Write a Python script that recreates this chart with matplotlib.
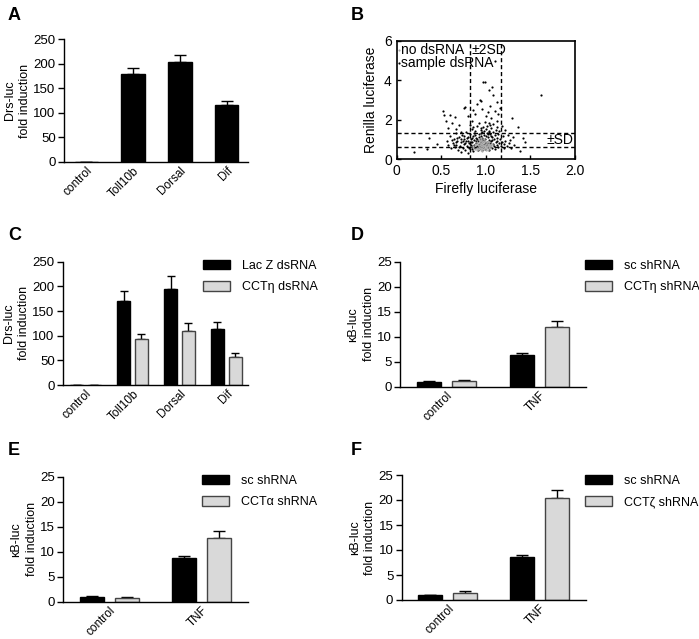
import numpy as np
import matplotlib
matplotlib.use('Agg')
import matplotlib.pyplot as plt
from matplotlib.patches import Patch

plt.rcParams['font.family'] = ['Liberation Sans', 'DejaVu Sans']
plt.rcParams['font.size'] = 9.5

# panel A
drs_cats = ['control', 'Toll10b', 'Dorsal', 'Dif']
drs_fold = [1, 179, 204, 115]
drs_err = [0, 12, 13, 10]

# panel C
lacz_fold = [1, 170, 195, 113]
lacz_err = [0, 20, 27, 15]
ccth_fold = [1, 94, 109, 57]
ccth_err = [0, 9, 17, 8]

# panels D, E, F
kb_cats = ['control', 'TNF']
d_sc, d_sc_err = [1.0, 6.4], [0.05, 0.4]
d_kd, d_kd_err = [1.2, 12.0], [0.05, 1.2]
e_sc, e_sc_err = [1.0, 8.7], [0.05, 0.4]
e_kd, e_kd_err = [0.8, 12.8], [0.1, 1.3]
f_sc, f_sc_err = [1.0, 8.6], [0.05, 0.4]
f_kd, f_kd_err = [1.5, 20.4], [0.3, 1.6]

# panel B: sample dsRNA (black) points
sample_x = [0.19, 0.34, 0.36, 0.52, 0.53, 0.60, 0.65, 0.55, 0.62, 0.58, 0.66, 0.70, 0.72, 0.75, 0.77,
            0.80, 0.86, 0.84, 0.88, 0.90, 0.93, 0.95, 0.97, 0.99, 1.03, 1.07, 1.08, 1.10, 1.12, 1.05,
            1.10, 1.14, 1.02, 0.96, 1.00, 1.06, 1.13, 1.16, 1.18, 1.22, 1.29, 1.36, 1.27, 1.42, 1.44,
            1.38, 1.32, 1.25, 1.30, 1.20, 1.62, 0.72, 0.80, 0.45,
            0.56, 0.58, 0.60, 0.61, 0.63, 0.64, 0.65, 0.66, 0.67, 0.68, 0.69, 0.70, 0.71, 0.72, 0.73,
            0.74, 0.75, 0.76, 0.77, 0.78, 0.78, 0.79, 0.80, 0.81, 0.81, 0.82, 0.83, 0.83, 0.84, 0.84,
            0.85, 0.85, 0.86, 0.86, 0.87, 0.87, 0.88, 0.88, 0.89, 0.89, 0.90, 0.90, 0.91, 0.91, 0.92,
            0.92, 0.93, 0.93, 0.94, 0.94, 0.95, 0.95, 0.96, 0.96, 0.97, 0.97, 0.98, 0.98, 0.99, 0.99,
            1.00, 1.00, 1.01, 1.01, 1.02, 1.02, 1.03, 1.03, 1.04, 1.04, 1.05, 1.05, 1.06, 1.06, 1.07,
            1.07, 1.08, 1.08, 1.09, 1.09, 1.10, 1.10, 1.11, 1.11, 1.12, 1.12, 1.13, 1.14, 1.14, 1.15,
            1.16, 1.17, 1.18, 1.19, 1.20, 1.22, 1.24, 1.26, 1.28,
            0.88, 0.90, 0.92, 0.94, 0.96, 0.98, 1.00, 1.02, 1.04, 1.06, 0.93, 0.95, 0.97, 0.99, 1.01,
            1.03, 1.05, 1.07, 0.89, 0.91, 0.87, 0.85, 0.83, 0.82, 0.80, 0.79, 0.77, 0.76, 0.74, 0.72,
            0.70, 0.68, 0.66, 0.64, 0.62, 0.95, 0.97, 1.01, 1.05, 0.92, 0.99, 1.03, 0.86, 0.82, 1.08,
            1.12, 1.15]
sample_y = [0.39, 0.52, 1.10, 2.47, 2.25, 2.25, 2.17, 1.95, 1.85, 1.60, 1.55, 1.75, 1.40, 2.60, 2.67,
            2.20, 2.50, 1.95, 2.30, 2.80, 3.00, 2.95, 3.90, 3.94, 3.49, 3.65, 3.27, 5.01, 2.93, 2.70,
            2.45, 2.30, 2.40, 2.55, 2.20, 2.10, 1.95, 2.60, 1.70, 1.50, 2.08, 1.66, 0.98, 1.07, 0.90,
            0.44, 0.75, 1.25, 1.15, 0.55, 3.25, 0.38, 0.33, 0.80,
            0.95, 0.70, 1.20, 0.55, 0.85, 1.05, 0.62, 1.35, 0.75, 0.95, 0.48, 1.15, 0.68, 0.88, 1.25,
            0.58, 1.05, 0.78, 0.45, 1.40, 0.92, 0.65, 1.15, 0.55, 0.82, 1.30, 0.72, 1.02, 0.50, 1.55,
            0.88, 0.62, 1.20, 0.40, 0.75, 1.00, 1.45, 0.55, 0.85, 1.10, 0.66, 1.70, 0.95, 0.48, 1.30,
            0.78, 1.05, 0.58, 1.60, 0.88, 1.18, 0.70, 0.45, 1.40, 0.92, 0.62, 1.25, 0.80, 1.05, 0.52,
            1.55, 0.72, 1.35, 0.90, 1.15, 0.60, 1.45, 0.82, 1.00, 0.48, 1.30, 0.70, 1.60, 0.92, 1.15,
            0.58, 1.38, 0.80, 1.02, 0.65, 1.25, 0.50, 0.88, 1.50, 0.72, 1.10, 0.95, 0.60, 1.30, 0.82,
            1.05, 0.68, 0.90, 1.20, 0.78, 0.95, 0.65, 0.85, 0.58,
            1.25, 1.05, 1.15, 1.35, 1.10, 1.45, 1.20, 1.30, 1.40, 1.20, 0.68, 0.82, 1.00, 0.85, 0.75,
            0.95, 0.85, 0.98, 0.95, 0.62, 1.35, 1.10, 0.90, 0.62, 0.95, 1.10, 0.85, 1.20, 0.95, 1.05,
            0.60, 1.10, 0.90, 0.70, 1.00, 1.50, 1.65, 1.70, 1.75, 1.85, 1.90, 1.85, 1.65, 1.75, 1.80,
            1.65, 1.45]

# panel B: no dsRNA (grey) points
ctrl_x = [0.86, 0.88, 0.88, 0.89, 0.90, 0.90, 0.91, 0.91, 0.92, 0.92, 0.93, 0.93, 0.93, 0.94, 0.94,
          0.94, 0.95, 0.95, 0.95, 0.96, 0.96, 0.96, 0.97, 0.97, 0.97, 0.98, 0.98, 0.98, 0.99, 0.99,
          0.99, 1.00, 1.00, 1.00, 1.01, 1.01, 1.01, 1.02, 1.02, 1.03, 1.03, 1.04, 1.04, 1.05, 1.05,
          1.06, 1.07, 0.92, 0.95, 0.98, 0.90, 0.96, 1.02]
ctrl_y = [0.60, 0.70, 0.52, 0.80, 0.58, 0.90, 0.72, 0.50, 0.85, 0.62, 0.95, 0.55, 0.75, 0.65, 0.48,
          0.85, 0.58, 0.78, 1.00, 0.68, 0.88, 0.52, 0.75, 0.60, 0.95, 0.65, 0.50, 0.85, 0.72, 0.58,
          0.92, 0.62, 0.80, 0.48, 0.68, 0.55, 0.88, 0.72, 0.95, 0.60, 0.78, 0.66, 0.88, 0.58, 0.75,
          0.65, 0.80, 1.05, 1.10, 1.05, 0.45, 0.42, 0.45]

sd2_bounds = [0.82, 1.17]
sd_bounds = [0.62, 1.32]

fig = plt.figure(figsize=(6.99, 6.39), dpi=100)
W, H = 699.0, 639.0


def make_ax(x0, x1, ytop, ybot):
    return fig.add_axes([x0 / W, 1 - ybot / H, (x1 - x0) / W, (ybot - ytop) / H])


def style_bars(ax, ymax, step, cats, xpos, xlim, ylabel):
    for s in ['top', 'right']:
        ax.spines[s].set_visible(False)
    for s in ['left', 'bottom']:
        ax.spines[s].set_linewidth(1)
    ax.set_ylim(0, ymax)
    ax.set_yticks(np.arange(0, ymax + 1, step))
    ax.set_xlim(*xlim)
    ax.set_xticks(xpos)
    ax.set_xticklabels(cats, rotation=45, ha='right', va='top', rotation_mode='anchor', fontsize=8.5)
    ax.tick_params(axis='x', length=0, pad=2)
    ax.tick_params(axis='y', length=4, width=1, labelsize=9.5, pad=2)
    ax.set_ylabel(ylabel, fontsize=9, linespacing=1.35, labelpad=1.5)


def ebar(ax, x, vals, errs, cap):
    ax.errorbar(x, vals, yerr=[np.zeros(len(errs)), errs], fmt='none', ecolor='black',
                elinewidth=1, capsize=cap, capthick=1, zorder=1)


grey = '#d9d9d9'

# A
axA = make_ax(64, 248, 39, 162)
xa = np.arange(len(drs_cats))
ebar(axA, xa, drs_fold, drs_err, 4.5)
axA.bar(xa, drs_fold, 0.51, color='black', edgecolor='black', linewidth=1, zorder=2)
style_bars(axA, 250, 50, drs_cats, xa, (-0.48, 3.46), 'Drs-luc\nfold induction')

# B
axB = make_ax(396.7, 575, 41, 159.3)
axB.scatter(sample_x, sample_y, s=2.5, color='black', linewidths=0, zorder=3)
axB.scatter(ctrl_x, ctrl_y, s=2.5, color='#aaaaaa', linewidths=0, zorder=4)
for v in sd2_bounds:
    axB.axvline(v, color='black', lw=1, ls=(0, (3, 2)), zorder=2)
for v in sd_bounds:
    axB.axhline(v, color='black', lw=1, ls=(0, (3, 2)), zorder=2)
axB.set_xlim(0, 2.0)
axB.set_ylim(0, 6)
axB.set_xticks([0, 0.5, 1.0, 1.5, 2.0])
axB.set_xticklabels(['0', '0.5', '1.0', '1.5', '2.0'])
axB.set_yticks([0, 2, 4, 6])
axB.tick_params(direction='in', length=3, width=1, labelsize=10)
for s in axB.spines.values():
    s.set_linewidth(1.2)
axB.set_xlabel('Firefly luciferase', fontsize=10, labelpad=3)
axB.set_ylabel('Renilla luciferase', fontsize=10, labelpad=4)
axB.scatter([0.03], [5.55], s=2.5, color='#aaaaaa', linewidths=0)
axB.scatter([0.03], [4.9], s=2.5, color='black', linewidths=0)
axB.text(0.05, 5.55, 'no dsRNA', fontsize=10, va='center')
axB.text(0.05, 4.9, 'sample dsRNA', fontsize=10, va='center')
axB.text(0.84, 5.55, '±2SD', fontsize=10, va='center')
axB.text(1.98, 0.97, '±SD', fontsize=10, va='center', ha='right')

# C
axC = make_ax(63, 248, 261.7, 385)
xc = np.arange(len(drs_cats))
ebar(axC, xc - 0.19, lacz_fold, lacz_err, 3)
ebar(axC, xc + 0.19, ccth_fold, ccth_err, 3)
axC.bar(xc - 0.19, lacz_fold, 0.27, color='black', edgecolor='black', linewidth=1, zorder=2)
axC.bar(xc + 0.19, ccth_fold, 0.27, color=grey, edgecolor='#444444', linewidth=1, zorder=2)
style_bars(axC, 250, 50, drs_cats, xc, (-0.48, 3.46), 'Drs-luc\nfold induction')


def legend_at(x, y, labels):
    handles = [Patch(facecolor='black', edgecolor='black'),
               Patch(facecolor=grey, edgecolor='#444444')]
    fig.legend(handles, labels, loc='upper left', bbox_to_anchor=(x / W, 1 - y / H),
               frameon=False, fontsize=9, handlelength=2.15, handleheight=0.75,
               handletextpad=1.0, labelspacing=0.75, borderpad=0, borderaxespad=0)


legend_at(203, 260, ['Lac Z dsRNA', 'CCTη dsRNA'])

# D, E, F
kb_panels = [((400, 586, 261.7, 386.7), d_sc, d_sc_err, d_kd, d_kd_err, (585, 260), 'CCTη shRNA'),
             ((63, 248, 476.7, 601.7), e_sc, e_sc_err, e_kd, e_kd_err, (202, 475), 'CCTα shRNA'),
             ((401.7, 586, 475, 600), f_sc, f_sc_err, f_kd, f_kd_err, (585, 475), 'CCTζ shRNA')]
xk = np.arange(len(kb_cats))
for box, sc, sc_err, kd, kd_err, lpos, lab in kb_panels:
    ax = make_ax(*box)
    ebar(ax, xk - 0.19, sc, sc_err, 4)
    ebar(ax, xk + 0.19, kd, kd_err, 4)
    ax.bar(xk - 0.19, sc, 0.26, color='black', edgecolor='black', linewidth=1, zorder=2)
    ax.bar(xk + 0.19, kd, 0.26, color=grey, edgecolor='#444444', linewidth=1, zorder=2)
    style_bars(ax, 25, 5, kb_cats, xk, (-0.5, 1.5), 'κB-luc\nfold induction')
    legend_at(lpos[0], lpos[1], ['sc shRNA', lab])

# panel letters
for lab, x, y in [('A', 8, 20), ('B', 351, 20), ('C', 8, 240), ('D', 351, 240),
                  ('E', 8, 455), ('F', 351, 455)]:
    fig.text(x / W, 1 - y / H, lab, fontsize=13, fontweight='bold', ha='left', va='baseline')

fig.savefig('out.png', dpi=100)
